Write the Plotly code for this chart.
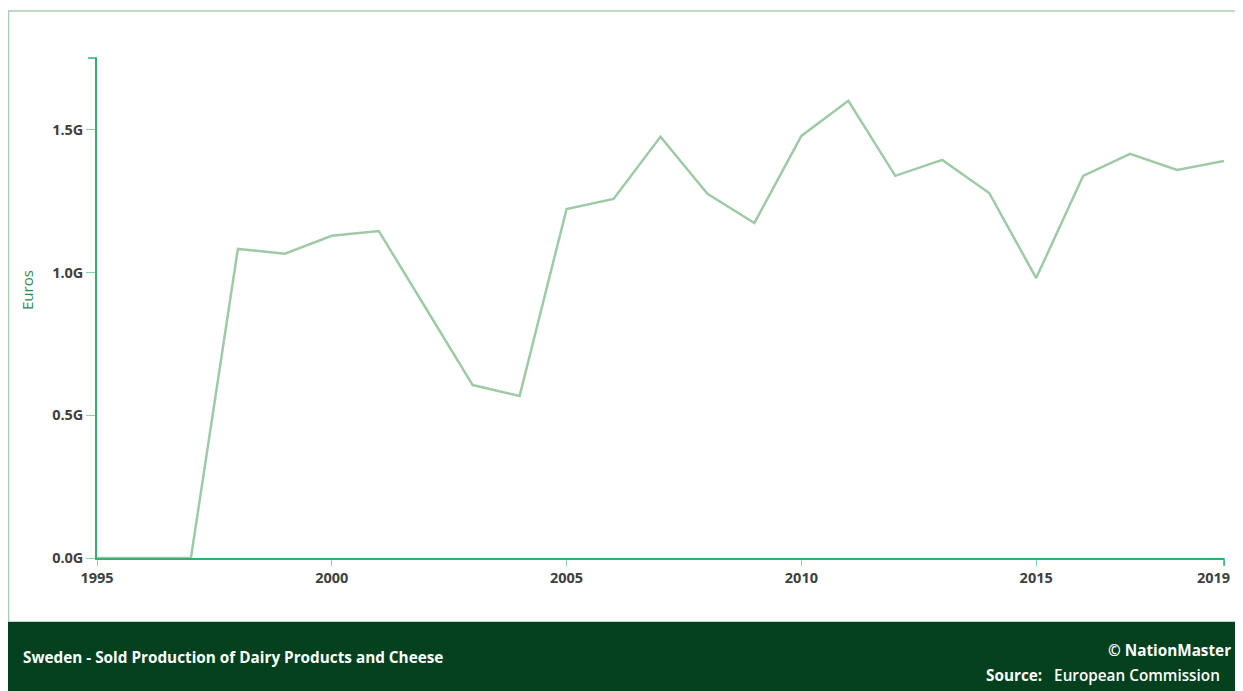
import plotly.graph_objects as go

years = list(range(1995, 2020))
values = [0, 0, 0, 1.083e9, 1.066e9, 1.129e9, 1.146e9, 0.876e9, 0.606e9, 0.568e9,
          1.223e9, 1.258e9, 1.476e9, 1.276e9, 1.174e9, 1.479e9, 1.602e9, 1.339e9,
          1.395e9, 1.279e9, 0.981e9, 1.339e9, 1.416e9, 1.360e9, 1.391e9]
ytick_vals = [0, 0.5e9, 1.0e9, 1.5e9]
ytick_text = ["0.0G", "0.5G", "1.0G", "1.5G"]
xtick_vals = [1995, 2000, 2005, 2010, 2015, 2019]
xtick_text = ["1995", "2000", "2005", "2010", "2015", "2019"]

# page body has an 8px margin; work in figure coordinates = screen - 8
OFF = 8
W, H = 1243 - OFF, 691 - OFF
L, R, T, B = 97 - OFF, 1224 - OFF, 58 - OFF, 558 - OFF
pw, ph = R - L, B - T

def px(x):
    return (x - OFF - L) / pw

def py(y):
    return (B - (y - OFF)) / ph

axis_green = "#2db36f"
tick_green = "#86d3a4"
FONT = "Open Sans, Noto Sans, sans-serif"
tick_font = dict(family=FONT, size=14.5, color="#404040", weight=700)

# last x label is drawn separately (shifted left so it stays inside the frame)
shown_xtext = xtick_text[:-1] + [""]

fig = go.Figure()
fig.add_trace(go.Scatter(x=years, y=values, mode="lines",
                         line=dict(color="#9fcaa8", width=2.5),
                         hoverinfo="x+y", showlegend=False))

fig.update_layout(
    width=W, height=H,
    margin=dict(l=L, r=W - R, t=T, b=H - B, pad=0, autoexpand=False),
    paper_bgcolor="white", plot_bgcolor="white",
    xaxis=dict(range=[1995, 2019], tickvals=xtick_vals, ticktext=shown_xtext,
               showgrid=False, zeroline=False, showline=True, linecolor=axis_green,
               linewidth=1.5, ticks="outside", ticklen=6, tickcolor=tick_green,
               tickfont=tick_font, automargin=False),
    yaxis=dict(range=[0, 1.752e9], tickvals=ytick_vals, ticktext=ytick_text,
               showgrid=False, zeroline=False, showline=True, linecolor=axis_green,
               linewidth=1.5, ticks="outside", ticklen=9, tickcolor=tick_green,
               tickfont=tick_font, automargin=False),
    shapes=[
        dict(type="rect", xref="paper", yref="paper",
             x0=px(8.5), x1=px(1243), y0=py(622), y1=py(11),
             line=dict(color="#a8cdb4", width=1.5), fillcolor="rgba(0,0,0,0)", layer="below"),
        dict(type="rect", xref="paper", yref="paper",
             x0=px(8), x1=px(1243), y0=py(691), y1=py(622),
             line=dict(width=0), fillcolor="#02401e", layer="below"),
        dict(type="line", xref="paper", yref="paper",
             x0=px(88), x1=px(97), y0=1, y1=1,
             line=dict(color=axis_green, width=1.5)),
        dict(type="line", xref="paper", yref="paper",
             x0=1, x1=1, y0=0, y1=py(566),
             line=dict(color=axis_green, width=1.5)),
    ],
    annotations=[
        dict(xref="paper", yref="paper", x=px(1232), y=py(577), xanchor="right", yanchor="middle",
             text=xtick_text[-1], showarrow=False, font=tick_font),
        dict(xref="paper", yref="paper", x=px(27), y=py(290), xanchor="center", yanchor="middle",
             text="Euros", textangle=-90, showarrow=False,
             font=dict(family=FONT, size=15, color="#2e8b57")),
        dict(xref="paper", yref="paper", x=px(21), y=py(657), xanchor="left", yanchor="middle",
             text="Sweden - Sold Production of Dairy Products and Cheese", showarrow=False,
             font=dict(family=FONT, size=15.3, color="white", weight=700)),
        dict(xref="paper", yref="paper", x=px(1233), y=py(650), xanchor="right", yanchor="middle",
             text="© NationMaster", showarrow=False,
             font=dict(family=FONT, size=15.3, color="white", weight=700)),
        dict(xref="paper", yref="paper", x=px(1222), y=py(675), xanchor="right", yanchor="middle",
             text="<b>Source:</b>   European Commission", showarrow=False,
             font=dict(family=FONT, size=15.3, color="white", weight=600)),
    ],
)

fig.write_html("out.html")
